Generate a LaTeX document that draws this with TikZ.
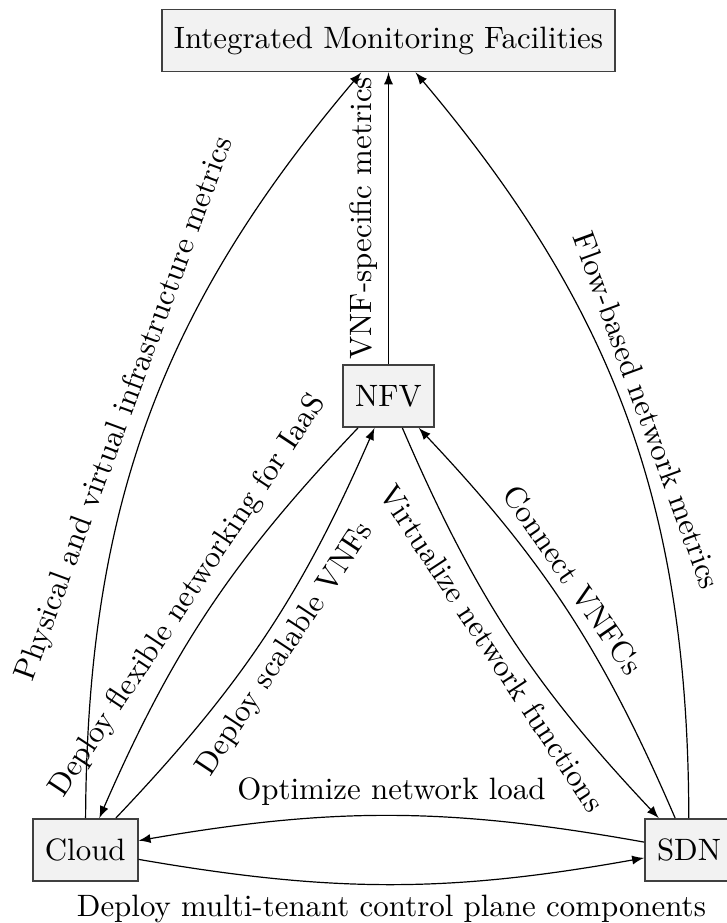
\documentclass[tikz,border=0pt]{standalone}
\usetikzlibrary{arrows}
\begin{document}
\begin{tikzpicture}[x=1pt,y=1pt,
  font=\fontsize{10.3}{12.4}\selectfont,
  box/.style={draw=black!75, fill=gray!10, line width=0.6pt,
    inner xsep=4pt, minimum height=20.7pt},
  link/.style={-latex, line width=0.4pt}]
  \useasboundingbox (0,0) rectangle (242,307.67);

  % components
  \node[box] (imf)   at (129.5,294.17) {Integrated Monitoring Facilities};
  \node[box] (nfv)   at (129.5,175.67) {NFV};
  \node[box] (cloud) at (28.43,24.33)  {Cloud};
  \node[box] (sdn)   at (229.67,24.33) {SDN};

  % monitoring feeds
  \draw[link] (cloud) to[bend left=20]
    node[sloped,above] {Physical and virtual infrastructure metrics} (imf);
  \draw[link] (nfv) --
    node[sloped,above] {VNF-specific metrics} (imf);
  \draw[link] (sdn) to[bend right=20]
    node[sloped,above] {Flow-based network metrics} (imf);

  % NFV and Cloud
  \draw[link] (nfv) to[bend right=10]
    node[sloped,above] {Deploy flexible networking for IaaS} (cloud);
  \draw[link] (cloud) to[bend right=10]
    node[sloped,below] {Deploy scalable VNFs} (nfv);

  % NFV and SDN
  \draw[link] (nfv) to[bend right=10]
    node[sloped,below] {Virtualize network functions} (sdn);
  \draw[link] (sdn) to[bend right=10]
    node[sloped,above,pos=0.55] {Connect VNFCs} (nfv);

  % Cloud and SDN
  \draw[link] (sdn) to[bend right=10]
    node[above] {Optimize network load} (cloud);
  \draw[link] (cloud) to[bend right=10]
    node[below] {Deploy multi-tenant control plane components} (sdn);
\end{tikzpicture}
\end{document}
